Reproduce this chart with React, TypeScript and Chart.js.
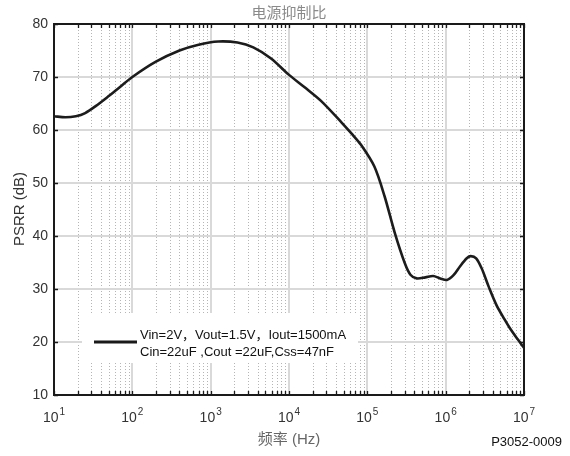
import React, { useEffect, useRef } from "react";
import { Chart, registerables } from "chart.js";

Chart.register(...registerables);

// ---- data ----
const freqHz = [10, 14, 19, 25, 34, 50, 63, 100, 200, 400, 700, 1250, 2200, 3500, 5900, 10000, 16000, 26000, 47000, 63000, 83000, 123000, 166000, 224000, 302000, 355000, 427000, 550000, 692000, 851000, 1035000, 1260000, 1530000, 1860000, 2090000, 2450000, 2880000, 3550000, 4470000, 5620000, 6610000, 8320000, 10000000];
const psrrDb = [62.6, 62.4, 62.6, 63.2, 64.5, 66.4, 67.6, 70.0, 72.9, 75.0, 76.1, 76.7, 76.5, 75.6, 73.5, 70.4, 68.0, 65.4, 61.4, 59.3, 57.2, 53.1, 47.5, 40.6, 34.8, 32.7, 32.0, 32.2, 32.45, 32.0, 31.7, 32.6, 34.3, 35.8, 36.2, 35.8, 33.9, 30.4, 26.9, 24.3, 22.6, 20.5, 18.9];

const xTickValues = [10, 100, 1000, 10000, 100000, 1000000, 10000000];
const xTickBase = ["10", "10", "10", "10", "10", "10", "10"];
const xTickExp = ["1", "2", "3", "4", "5", "6", "7"];
const xMinorMultipliers = [2, 3, 4, 5, 6, 7, 8, 9];
const yTickValues = [10, 20, 30, 40, 50, 60, 70, 80];

const titleText = "电源抑制比";
const xTitle = "频率 (Hz)";
const yTitle = "PSRR (dB)";
const legendLine1 = "Vin=2V，Vout=1.5V，Iout=1500mA";
const legendLine2 = "Cin=22uF ,Cout =22uF,Css=47nF";
const footText = "P3052-0009";

const LATIN = "'Liberation Sans', Arial, 'Noto Sans CJK SC', sans-serif";
const CJK = "'Noto Sans CJK SC', 'Liberation Sans', sans-serif";

const decorPlugin = {
  id: "decor",
  beforeDatasetsDraw(chart: any) {
    const { ctx, chartArea: a } = chart;
    const xs = chart.scales.x;
    const ys = chart.scales.y;
    ctx.save();
    // minor dotted verticals
    ctx.strokeStyle = "#b5b5b5";
    ctx.lineWidth = 1;
    ctx.setLineDash([1, 2]);
    for (let d = 0; d < xTickValues.length - 1; d++) {
      for (const m of xMinorMultipliers) {
        const x = Math.round(xs.getPixelForValue(xTickValues[d] * m)) + 0.5;
        ctx.beginPath();
        ctx.moveTo(x, a.top);
        ctx.lineTo(x, a.bottom);
        ctx.stroke();
      }
    }
    ctx.setLineDash([]);
    // major verticals
    ctx.strokeStyle = "#d9d9d9";
    ctx.lineWidth = 2;
    for (let i = 1; i < xTickValues.length - 1; i++) {
      const x = Math.round(xs.getPixelForValue(xTickValues[i]));
      ctx.beginPath();
      ctx.moveTo(x, a.top);
      ctx.lineTo(x, a.bottom);
      ctx.stroke();
    }
    // horizontals
    for (let i = 1; i < yTickValues.length - 1; i++) {
      const y = Math.round(ys.getPixelForValue(yTickValues[i]));
      ctx.beginPath();
      ctx.moveTo(a.left, y);
      ctx.lineTo(a.right, y);
      ctx.stroke();
    }
    ctx.restore();
  },
  afterDatasetsDraw(chart: any) {
    const { ctx, chartArea: a } = chart;
    const xs = chart.scales.x;
    const ys = chart.scales.y;
    ctx.save();
    // legend
    ctx.fillStyle = "#ffffff";
    ctx.fillRect(82, 313, 276, 50);
    ctx.strokeStyle = "#1a1a1a";
    ctx.lineWidth = 3;
    ctx.beginPath();
    ctx.moveTo(94, 342);
    ctx.lineTo(137, 342);
    ctx.stroke();
    ctx.fillStyle = "#111";
    ctx.font = "13px " + LATIN;
    ctx.textAlign = "left";
    ctx.textBaseline = "alphabetic";
    ctx.fillText(legendLine1, 140, 339);
    ctx.fillText(legendLine2, 140, 356);

    // frame
    ctx.strokeStyle = "#1a1a1a";
    ctx.lineWidth = 2;
    ctx.strokeRect(a.left, a.top, a.right - a.left, a.bottom - a.top);
    // inward ticks
    ctx.lineWidth = 1.3;
    const tl = 4;
    const xTickPositions: number[] = [];
    for (let d = 0; d < xTickValues.length; d++) {
      xTickPositions.push(xs.getPixelForValue(xTickValues[d]));
      if (d < xTickValues.length - 1) {
        for (const m of xMinorMultipliers) xTickPositions.push(xs.getPixelForValue(xTickValues[d] * m));
      }
    }
    for (const xp of xTickPositions) {
      const x = Math.round(xp) + 0.5;
      ctx.beginPath();
      ctx.moveTo(x, a.bottom);
      ctx.lineTo(x, a.bottom - tl);
      ctx.moveTo(x, a.top);
      ctx.lineTo(x, a.top + tl);
      ctx.stroke();
    }
    for (const v of yTickValues) {
      const y = Math.round(ys.getPixelForValue(v)) + 0.5;
      ctx.beginPath();
      ctx.moveTo(a.left, y);
      ctx.lineTo(a.left + tl, y);
      ctx.moveTo(a.right, y);
      ctx.lineTo(a.right - tl, y);
      ctx.stroke();
    }

    // x tick labels with exponents
    ctx.fillStyle = "#333";
    ctx.textAlign = "left";
    ctx.textBaseline = "alphabetic";
    for (let i = 0; i < xTickValues.length; i++) {
      const px = xs.getPixelForValue(xTickValues[i]);
      ctx.font = "14px " + LATIN;
      const wb = ctx.measureText(xTickBase[i]).width;
      ctx.font = "10px " + LATIN;
      const we = ctx.measureText(xTickExp[i]).width;
      const sx = px - (wb + we + 1) / 2;
      ctx.font = "14px " + LATIN;
      ctx.fillText(xTickBase[i], sx, 422);
      ctx.font = "10px " + LATIN;
      ctx.fillText(xTickExp[i], sx + wb + 1, 415);
    }

    // title
    ctx.textAlign = "center";
    ctx.textBaseline = "middle";
    ctx.fillStyle = "#8a8a8a";
    ctx.font = "15px " + CJK;
    ctx.fillText(titleText, 289, 12);
    // x title
    ctx.fillStyle = "#666";
    ctx.font = "15px " + LATIN;
    ctx.fillText(xTitle, 289, 440);
    // y title
    ctx.save();
    ctx.translate(20, 209);
    ctx.rotate(-Math.PI / 2);
    ctx.fillStyle = "#333";
    ctx.font = "15px " + LATIN;
    ctx.fillText(yTitle, 0, 0);
    ctx.restore();
    // foot
    ctx.textAlign = "right";
    ctx.fillStyle = "#111";
    ctx.font = "13px " + LATIN;
    ctx.fillText(footText, 562, 442);
    ctx.restore();
  },
};

export default function App() {
  const ref = useRef<HTMLCanvasElement | null>(null);
  useEffect(() => {
    if (!ref.current) return;
    const chart = new Chart(ref.current, {
      type: "line",
      data: {
        datasets: [
          {
            data: freqHz.map((f, i) => ({ x: f, y: psrrDb[i] })),
            borderColor: "#1c1c1c",
            borderWidth: 2.6,
            pointRadius: 0,
            tension: 0.3,
            fill: false,
          },
        ],
      },
      options: {
        animation: false,
        responsive: false,
        devicePixelRatio: 1,
        layout: { padding: { top: 24, right: 46, left: 0, bottom: 0 } },
        plugins: { legend: { display: false }, tooltip: { enabled: false }, title: { display: false } },
        scales: {
          x: {
            type: "logarithmic",
            min: 10,
            max: 10000000,
            afterBuildTicks: (s: any) => {
              s.ticks = xTickValues.map((v) => ({ value: v }));
            },
            afterFit: (s: any) => {
              s.height = 61;
            },
            ticks: { display: false },
            grid: { display: false, drawTicks: false },
            border: { display: false },
          },
          y: {
            type: "linear",
            min: 10,
            max: 80,
            afterBuildTicks: (s: any) => {
              s.ticks = yTickValues.map((v) => ({ value: v }));
            },
            afterFit: (s: any) => {
              s.width = 54;
            },
            ticks: {
              color: "#333",
              font: { family: LATIN, size: 14 },
              padding: 6,
            },
            grid: { display: false, drawTicks: false },
            border: { display: false },
          },
        },
      } as any,
      plugins: [decorPlugin],
    });
    return () => chart.destroy();
  }, []);
  return (
    <div style={{ position: "absolute", left: 0, top: 0, width: 570, height: 456, background: "#fff" }}>
      <canvas ref={ref} width={570} height={456} />
    </div>
  );
}
